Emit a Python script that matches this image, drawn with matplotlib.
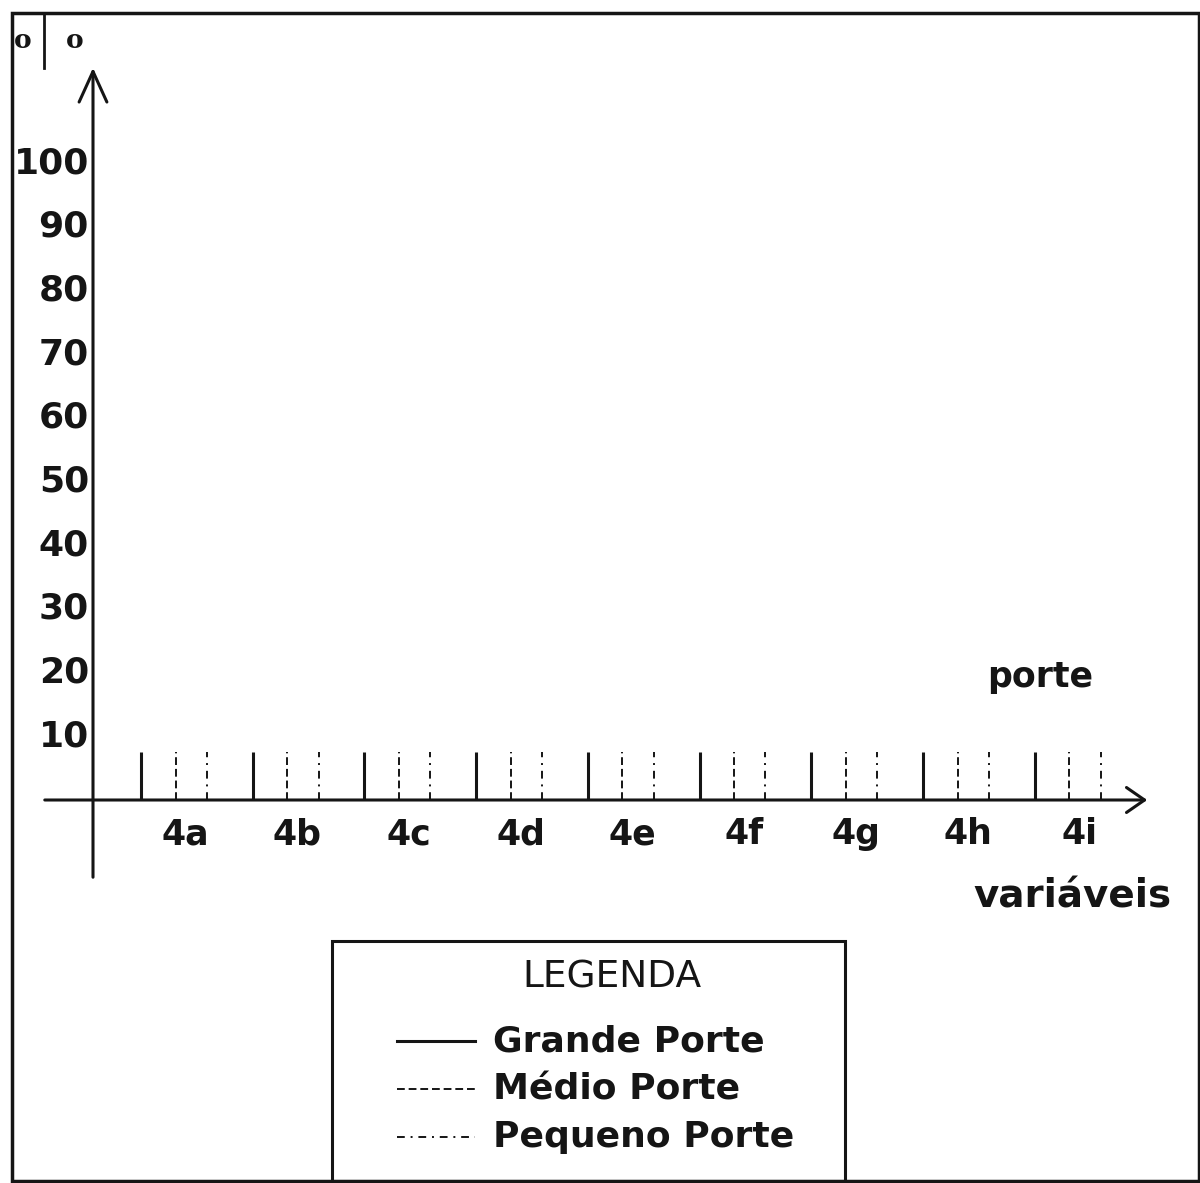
import matplotlib.pyplot as plt
from matplotlib.patches import Rectangle
from matplotlib.lines import Line2D

# chart data
groups = ["4a", "4b", "4c", "4d", "4e", "4f", "4g", "4h", "4i"]
grande = [7.5, 7.5, 7.5, 7.5, 7.5, 7.5, 7.5, 7.5, 7.5]
medio = [7.5, 7.5, 7.5, 7.5, 7.5, 7.5, 7.5, 7.5, 7.5]
pequeno = [7.5, 7.5, 7.5, 7.5, 7.5, 7.5, 7.5, 7.5, 7.5]
yticks = [10, 20, 30, 40, 50, 60, 70, 80, 90, 100]
series_names = ["Grande Porte", "Médio Porte", "Pequeno Porte"]

ink = "#151515"
plt.rcParams["font.family"] = "DejaVu Sans"

W, H = 1200, 1183
fig = plt.figure(figsize=(W / 100, H / 100), dpi=100)
ax = fig.add_axes([0, 0, 1, 1])
ax.axis("off")

# one group unit = 111.7 px, 10 value units = 63.7 px, origin at (141, 800) px
gx, vy, x0, y0 = 111.7, 6.37, 141, 800
ax.set_xlim(-x0 / gx, (W - x0) / gx)
ax.set_ylim((y0 - H) / vy, y0 / vy)

# outer frame
fig.add_artist(Rectangle((12 / W, 2 / H), (W - 13) / W, (H - 15) / H,
                         transform=fig.transFigure, fill=False, lw=2.5, ec=ink))

# axes with arrows
yax = (93 - x0) / gx
ax.annotate("", xy=(yax, (y0 - 65) / vy), xytext=(yax, (y0 - 880) / vy),
            arrowprops=dict(arrowstyle="->,head_length=2.2,head_width=1.0", lw=2.2, color=ink))
ax.annotate("", xy=((1150 - x0) / gx, 0), xytext=((42 - x0) / gx, 0),
            arrowprops=dict(arrowstyle="->,head_length=1.3,head_width=0.9", lw=2.2, color=ink))

# y tick labels
for v in yticks:
    ax.text((89 - x0) / gx, v, str(v), ha="right", va="center",
            fontsize=26, fontweight="bold", color=ink)

# bars as vertical lines
for i, g in enumerate(groups):
    ax.plot([i, i], [0, grande[i]], color=ink, lw=2.2, solid_capstyle="butt")
    ax.plot([i + 0.31, i + 0.31], [0, medio[i]], color=ink, lw=1.4,
            linestyle=(0, (4, 2)))
    ax.plot([i + 0.59, i + 0.59], [0, pequeno[i]], color=ink, lw=1.4,
            linestyle=(0, (4, 3, 1, 3)))
    ax.text(i + 0.40, -5.4, g, ha="center", va="center",
            fontsize=25, fontweight="bold", color=ink)

ax.text((1040 - x0) / gx, (y0 - 677) / vy, "porte", ha="center", va="center",
        fontsize=25, fontweight="bold", color=ink)
ax.text((1072 - x0) / gx, (y0 - 897) / vy, "variáveis", ha="center", va="center",
        fontsize=28, fontweight="bold", color=ink)

# top-left marks
fig.text(23 / W, 1 - 41 / H, "o", ha="center", va="center", fontsize=19,
         fontweight="bold", color=ink, family="DejaVu Serif")
fig.text(75 / W, 1 - 41 / H, "o", ha="center", va="center", fontsize=19,
         fontweight="bold", color=ink, family="DejaVu Serif")
fig.add_artist(Line2D([44 / W, 44 / W], [1 - 14 / H, 1 - 68 / H], lw=2, color=ink))

# legend box
fig.add_artist(Rectangle((332 / W, 1 - 1181 / H), 513 / W, 240 / H,
                         transform=fig.transFigure, fill=False, lw=2.2, ec=ink))
fig.text(612 / W, 1 - 978 / H, "LEGENDA", ha="center", va="center",
         fontsize=27, color=ink)
styles = [dict(lw=2.2), dict(lw=1.4, linestyle=(0, (4, 2))),
          dict(lw=1.4, linestyle=(0, (4, 3, 1, 3)))]
for k, (name, st) in enumerate(zip(series_names, styles)):
    yy = 1 - (1041 + 48 * k) / H
    fig.add_artist(Line2D([397 / W, 475 / W], [yy, yy], color=ink, **st))
    fig.text(493 / W, yy, name, ha="left", va="center", fontsize=26,
             fontweight="bold", color=ink)

fig.savefig("out.png", dpi=100, facecolor="white")
